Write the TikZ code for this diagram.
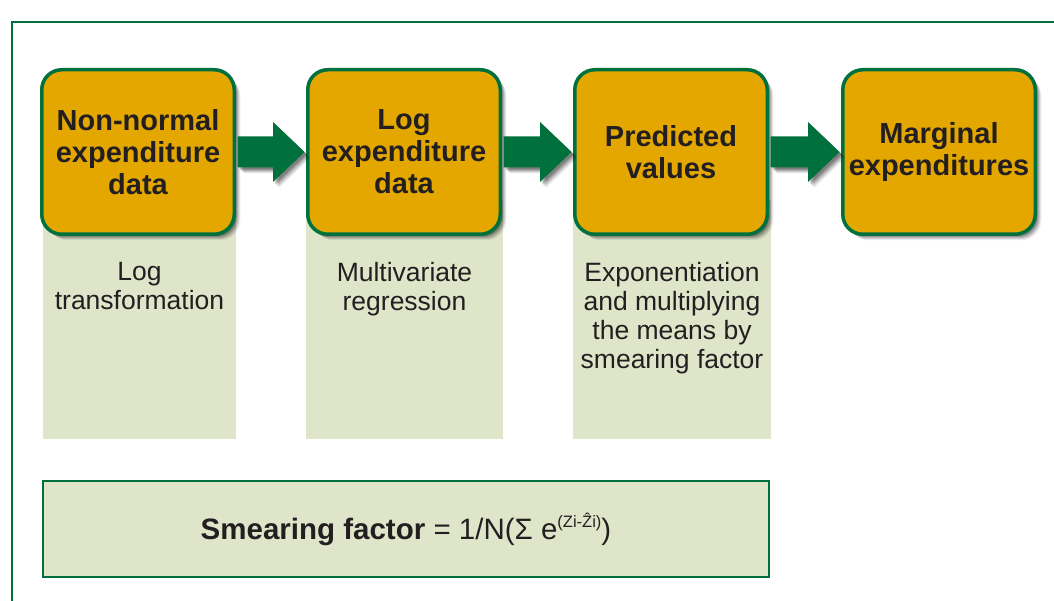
\documentclass[tikz,border=0pt]{standalone}
\usepackage{fontspec}
\setmainfont{Liberation Sans}
\usetikzlibrary{shadows}
\definecolor{boxorange}{HTML}{E3A700}
\definecolor{darkgreen}{HTML}{00703C}
\definecolor{panelgreen}{HTML}{DFE5C9}
\definecolor{inkc}{HTML}{231F20}
\newcommand{\flowarrowpath}[2]{%
  \fill[flowarrow] ([xshift=1.5pt,yshift=15.5pt]#1.east) -- ([xshift=-33pt,yshift=15.5pt]#2.west)
    -- ([xshift=-33pt,yshift=30pt]#2.west) -- ([xshift=-1.5pt]#2.west)
    -- ([xshift=-33pt,yshift=-30pt]#2.west) -- ([xshift=-33pt,yshift=-15.5pt]#2.west)
    -- ([xshift=1.5pt,yshift=-15.5pt]#1.east) -- cycle;}
\begin{document}
\begin{tikzpicture}[x=1pt,y=-1pt,
  softshadow/.style={
    general shadow={shadow xshift=6pt, shadow yshift=-6pt, fill=black, opacity=0.07},
    general shadow={shadow xshift=5pt, shadow yshift=-5pt, fill=black, opacity=0.10},
    general shadow={shadow xshift=4pt, shadow yshift=-4pt, fill=black, opacity=0.13},
    general shadow={shadow xshift=3pt, shadow yshift=-3pt, fill=black, opacity=0.16},
    general shadow={shadow xshift=2pt, shadow yshift=-2pt, fill=black, opacity=0.18}},
  stepbox/.style={draw=darkgreen, line width=3.5pt, fill=boxorange, rounded corners=20pt,
    minimum width=192.5pt, minimum height=164.5pt, align=center, text=inkc,
    font=\fontsize{29}{32}\selectfont\bfseries, inner sep=0pt, softshadow},
  panel/.style={fill=panelgreen, draw=none, anchor=north, inner sep=0pt, minimum height=239pt},
  paneltext/.style={anchor=north, align=center, text=inkc, font=\fontsize{26.5}{29}\selectfont, inner sep=0pt},
  flowarrow/.style={fill=darkgreen, softshadow},
  frame/.style={draw=darkgreen, line width=2.5pt},
  formulabox/.style={draw=darkgreen, line width=2pt, fill=panelgreen, minimum width=726pt,
    minimum height=96pt, text=inkc, font=\fontsize{29.5}{32}\selectfont, inner sep=0pt}
]
\useasboundingbox (0,0) rectangle (1054,601);
\fill[white] (0,0) rectangle (1054,601);
\draw[frame] (12,22) rectangle (1090,640);
\node[panel, minimum width=193pt] (p1) at (139.5,200) {};
\node[panel, minimum width=197pt] (p2) at (404.5,200) {};
\node[panel, minimum width=198pt] (p3) at (672,200) {};

\node[paneltext] (t1) at (139.5,262) {Log\\transformation};
\node[paneltext] (t2) at (404.5,262) {Multivariate\\regression};
\node[paneltext] (t3) at (672,262) {Exponentiation\\and multiplying\\the means by\\smearing factor};

\node[stepbox] (b1) at (138,152) {Non-normal\\expenditure\\data};
\node[stepbox] (b2) at (404,152) {Log\\expenditure\\data};
\node[stepbox] (b3) at (671,152) {Predicted\\values};
\node[stepbox] (b4) at (939,152) {Marginal\\expenditures};

\flowarrowpath{b1}{b2}
\flowarrowpath{b2}{b3}
\flowarrowpath{b3}{b4}

\node[formulabox] (sf) at (406,529) {\textbf{Smearing factor} = 1/N(Σ e\raisebox{12pt}{\fontsize{16.5}{16.5}\selectfont(Zi-Ẑi)})};
\end{tikzpicture}
\end{document}
